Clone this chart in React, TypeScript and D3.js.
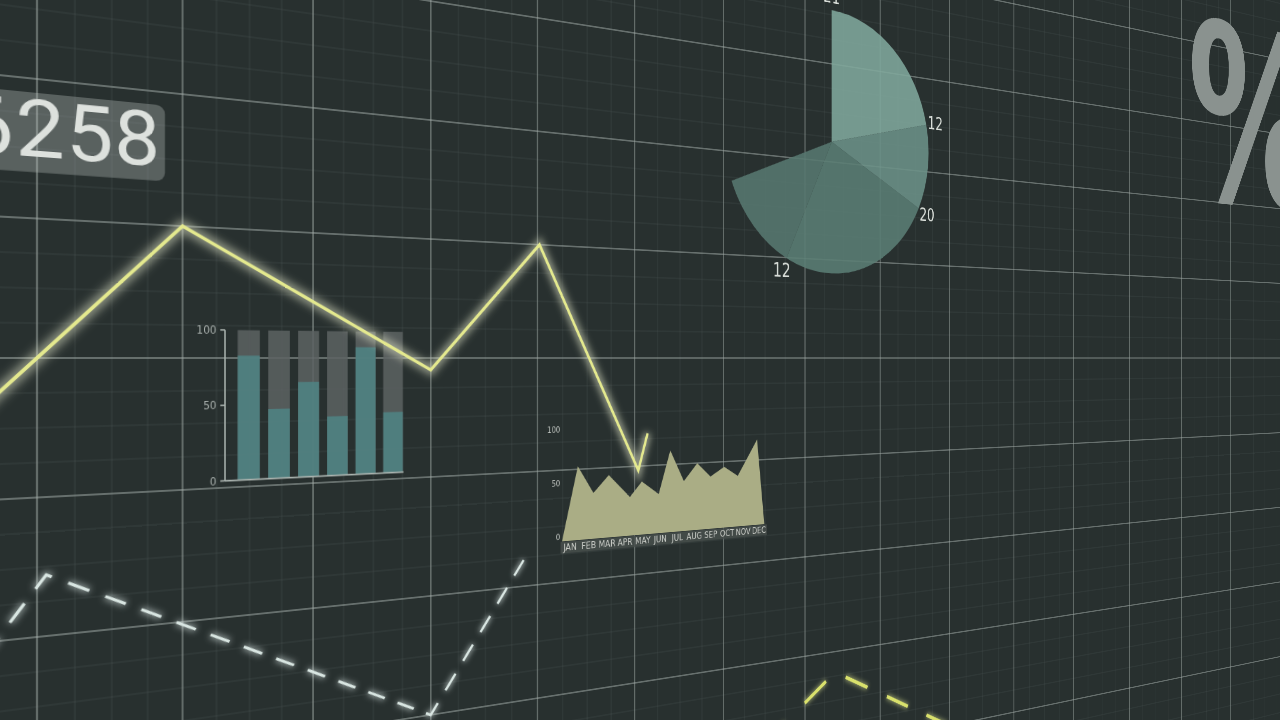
import React from 'react';
import * as d3 from 'd3';

// ---------- perspective plane ----------
const G = 140; // flat px per grid cell
const U_MIN = -1, U_MAX = 17, V_MIN = -6, V_MAX = 6;
const PA = 156.06, PB = 37, PC = 0.05757, PD = 139.5, YH = 358;

// ---------- data ----------
// main glowing yellow line (grid column, grid row; row grows downward)
const mainLineU = [-0.5, 1, 3, 4.02, 5.04, 5.14];
const mainLineV = [0.5, -1, 0.1, -1, 1.04, 0.7];

// white dashed line
const dashWhiteU = [-1, 0.06, 3, 3.88];
const dashWhiteV = [3.0, 1.56, 3.0, 1.75];

// yellow dashed line (bottom right)
const dashYellowU = [6.5, 7.39, 9.6];
const dashYellowV = [3.8, 3.21, 4.3];

// bar chart
const barValues = [83, 47, 65, 41, 89, 43];
const barMax = [100, 100, 100, 100, 100, 100];
const barTicks = [0, 50, 100];

// area chart
const months = ['JAN', 'FEB', 'MAR', 'APR', 'MAY', 'JUN', 'JUL', 'AUG', 'SEP', 'OCT', 'NOV', 'DEC'];
const areaIndex = [0, 1, 2, 3, 4.4, 5.2, 6.35, 7.15, 8.1, 9.05, 10, 11, 12, 13.45, 14];
const areaValues = [0, 69, 43, 59, 37, 51, 38, 80, 49, 66, 52, 61, 51, 87, 0];
const areaTicks = [0, 50, 100];

// pie chart (slice sizes in degrees, and their labels)
const pieSpans = [77.2, 39.6, 88.8, 43.0];
const pieLabels = ['21', '12', '20', '12'];
const pieColors = ['#80a79c', '#6b9188', '#5a7d74', '#577870'];

// counter
const counterText = '6258';

export default function App() {
  const W = (U_MAX - U_MIN) * G;
  const H = (V_MAX - V_MIN) * G;
  const su = d3.scaleLinear().domain([U_MIN, U_MAX]).range([0, W]);
  const sv = d3.scaleLinear().domain([V_MIN, V_MAX]).range([0, H]);

  // homography flat (p,q) -> screen (x,y)
  const h11 = PA / G, h12 = 0, h13 = PB + PA * U_MIN;
  const h21 = (YH * PC) / G, h22 = PD / G, h23 = YH * (1 + PC * U_MIN) + PD * V_MIN;
  const h31 = PC / G, h32 = 0, h33 = 1 + PC * U_MIN;
  const m3d = `matrix3d(${h11},${h21},0,${h31},${h12},${h22},0,${h32},0,0,1,0,${h13},${h23},0,${h33})`;

  const line = d3.line<[number, number]>().x(d => su(d[0])).y(d => sv(d[1]));
  const zip = (a: number[], b: number[]) => a.map((v, i) => [v, b[i]] as [number, number]);

  // grid
  const majorU = d3.range(U_MIN, U_MAX + 1);
  const majorV = d3.range(V_MIN, V_MAX + 1);
  const minorU = d3.range(U_MIN, U_MAX, 0.25).filter(v => Math.abs(v - Math.round(v)) > 1e-6);
  const minorV = d3.range(V_MIN, V_MAX, 0.25).filter(v => Math.abs(v - Math.round(v)) > 1e-6);

  // bar chart scales
  const barAxisU = 1.314;
  const xb = d3.scaleBand<number>().domain(barValues.map((_, i) => i)).range([su(1.377), su(2.786)]).paddingInner(0.28).paddingOuter(0.14);
  const yb = d3.scaleLinear().domain([0, 100]).range([sv(0.947), sv(-0.216)]);

  // area chart scales
  const xa = d3.scaleLinear().domain([0, 14]).range([su(4.244), su(6.49)]);
  const ya = d3.scaleLinear().domain([0, 100]).range([sv(1.635), sv(0.675)]);
  const xm = d3.scaleBand<string>().domain(months).range([su(4.23), su(6.52)]);
  const area = d3.area<number>().x((_, i) => xa(areaIndex[i])).y0(ya(0)).y1(d => ya(d));

  // pie
  const pieR = 1.343 * G;
  const pieArcs = d3.pie<number>().sort(null).startAngle(0).endAngle((d3.sum(pieSpans) * Math.PI) / 180)(pieSpans);
  const arc = d3.arc<d3.PieArcDatum<number>>().innerRadius(0).outerRadius(pieR);
  const labR = 1.48 * G;

  const narrow = "'Liberation Sans Narrow', 'DejaVu Sans Condensed', Roboto, sans-serif";

  return (
    <div style={{ position: 'fixed', left: 0, top: 0, width: 1280, height: 720, overflow: 'hidden', background: '#28302f' }}>
      <div style={{ position: 'absolute', left: 0, top: 0, width: W, height: H, transformOrigin: '0 0', transform: m3d }}>
        <svg width={W} height={H} style={{ display: 'block', overflow: 'visible' }}>
          <defs>
            <filter id="blur" filterUnits="userSpaceOnUse" x={0} y={0} width={W} height={H}>
              <feGaussianBlur stdDeviation={5} />
            </filter>
            <filter id="blurS" filterUnits="userSpaceOnUse" x={0} y={0} width={W} height={H}>
              <feGaussianBlur stdDeviation={3} />
            </filter>
          </defs>

          {/* minor grid */}
          <g stroke="#7f8d88" strokeOpacity={0.16} strokeWidth={1}>
            {minorU.map(u => <line key={'mu' + u} x1={su(u)} x2={su(u)} y1={0} y2={H} />)}
            {minorV.map(v => <line key={'mv' + v} x1={0} x2={W} y1={sv(v)} y2={sv(v)} />)}
          </g>
          {/* major grid */}
          <g stroke="#a3aeaa" strokeOpacity={0.68} strokeWidth={1.4}>
            {majorU.map(u => <line key={'Mu' + u} x1={su(u)} x2={su(u)} y1={0} y2={H} />)}
            {majorV.map(v => <line key={'Mv' + v} x1={0} x2={W} y1={sv(v)} y2={sv(v)} />)}
          </g>

          {/* counter box */}
          <rect x={su(-0.8)} y={sv(-1.9)} width={su(0.873) - su(-0.8)} height={sv(-1.33) - sv(-1.9)} rx={9} fill="#c9d0cc" fillOpacity={0.3} />
          <text x={su(0.845)} y={sv(-1.445)} textAnchor="end" fontFamily="Roboto, 'Open Sans', sans-serif" fontSize={80} fill="#dde1dd" letterSpacing={1}>{counterText}</text>

          {/* percent sign */}
          <text x={su(13.12)} y={sv(-2.03)} fontFamily={narrow} fontWeight="bold" fontSize={440} fill="#8a928f">%</text>

          {/* pie */}
          <g transform={`translate(${su(7.346)},${sv(-2.206)})`}>
            {pieArcs.map((a, i) => <path key={i} d={arc(a) || ''} fill={pieColors[i]} fillOpacity={0.88} />)}
            {pieArcs.map((a, i) => (
              <text key={'l' + i} x={Math.sin(a.startAngle) * labR} y={-Math.cos(a.startAngle) * labR} textAnchor="middle" dominantBaseline="central" fontFamily={narrow} fontSize={27} fill="#d8ddd8">{pieLabels[i]}</text>
            ))}
          </g>

          {/* bar chart */}
          <g>
            {barMax.map((m, i) => <rect key={'bg' + i} x={xb(i)} y={yb(m)} width={xb.bandwidth()} height={yb(0) - yb(m)} fill="#5c6262" fillOpacity={0.85} />)}
            {barValues.map((v, i) => <rect key={'b' + i} x={xb(i)} y={yb(v)} width={xb.bandwidth()} height={yb(0) - yb(v)} fill="#4f8282" fillOpacity={0.9} />)}
            <line x1={su(barAxisU)} x2={su(barAxisU)} y1={yb(0)} y2={yb(100)} stroke="#aab3af" strokeWidth={1.6} />
            <line x1={su(barAxisU)} x2={su(2.76)} y1={yb(0)} y2={yb(0)} stroke="#aab3af" strokeWidth={1.6} />
            {barTicks.map(t => (
              <g key={'t' + t}>
                <line x1={su(barAxisU) - 5} x2={su(barAxisU)} y1={yb(t)} y2={yb(t)} stroke="#aab3af" strokeWidth={1.6} />
                <text x={su(barAxisU) - 9} y={yb(t)} textAnchor="end" dominantBaseline="central" fontFamily={narrow} fontSize={12} fill="#a9b0ad">{t}</text>
              </g>
            ))}
          </g>

          {/* area chart */}
          <g>
            <path d={area(areaValues) || ''} fill="#aaad85" />
            <rect x={su(4.23)} y={sv(1.64)} width={su(6.52) - su(4.23)} height={sv(1.745) - sv(1.64)} fill="#474d4b" fillOpacity={0.85} />
            {months.map(m => (
              <text key={m} x={(xm(m) || 0) + xm.bandwidth() / 2} y={sv(1.693)} textAnchor="middle" dominantBaseline="central" fontFamily={narrow} fontSize={12.5} fill="#c9ccc6">{m}</text>
            ))}
            {areaTicks.map(t => (
              <text key={'a' + t} x={su(4.225)} y={ya(t) - 5} textAnchor="end" dominantBaseline="central" fontFamily={narrow} fontSize={10.5} fill="#b9beba">{t}</text>
            ))}
          </g>

          {/* white dashed line */}
          <path d={line(zip(dashWhiteU, dashWhiteV)) || ''} fill="none" stroke="#e6f2ef" strokeOpacity={0.5} strokeWidth={7} strokeDasharray="22 17" filter="url(#blurS)" />
          <path d={line(zip(dashWhiteU, dashWhiteV)) || ''} fill="none" stroke="#d9e6e2" strokeWidth={3} strokeDasharray="22 17" />

          {/* yellow dashed line */}
          <path d={line(zip(dashYellowU, dashYellowV)) || ''} fill="none" stroke="#eef59a" strokeOpacity={0.45} strokeWidth={9} strokeDasharray="46 42" strokeDashoffset={4.5} filter="url(#blurS)" />
          <path d={line(zip(dashYellowU, dashYellowV)) || ''} fill="none" stroke="#d9e16c" strokeWidth={5} strokeDasharray="46 42" strokeDashoffset={4.5} />

          {/* main yellow line */}
          <path d={line(zip(mainLineU, mainLineV)) || ''} fill="none" stroke="#f2f5d6" strokeOpacity={0.5} strokeWidth={12} filter="url(#blur)" strokeLinejoin="miter" />
          <path d={line(zip(mainLineU, mainLineV)) || ''} fill="none" stroke="#e4e98e" strokeWidth={3.6} strokeLinejoin="miter" />
        </svg>
      </div>
    </div>
  );
}
